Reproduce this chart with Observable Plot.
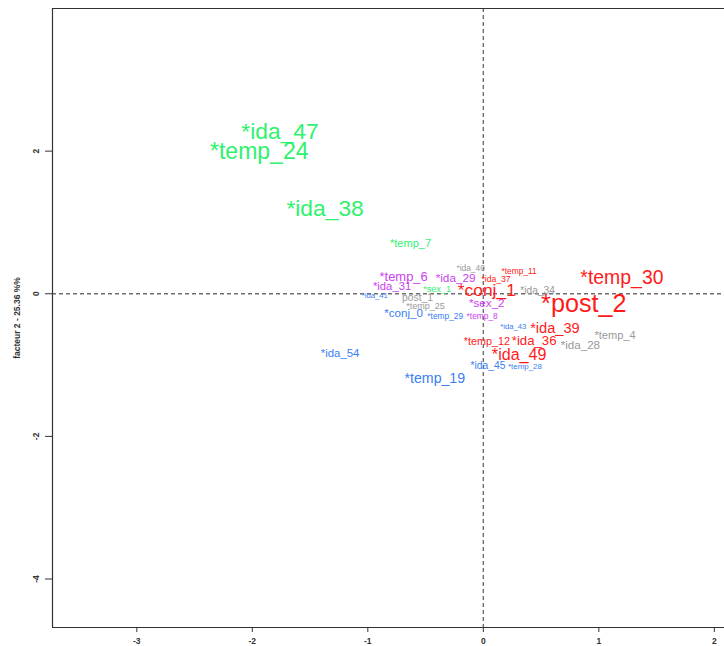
<!DOCTYPE html>
<html>
<head>
<meta charset="utf-8">
<script src="https://cdn.jsdelivr.net/npm/d3@7"></script>
<script src="https://cdn.jsdelivr.net/npm/@observablehq/plot@0.6"></script>
<style>
  html, body { margin: 0; padding: 0; background: #fff; }
  #chart svg { display: block; }
</style>
</head>
<body>
<div id="chart"></div>
<script>
// Modalities (labels), coordinates on factors 1 and 2, group, and relative size (cex)
const labels = ["*ida_47","*temp_24","*ida_38","*temp_7","*temp_6","*ida_29","*ida_40","*temp_11","*ida_37","*temp_30",
                "*ida_31","*sex_1","*conj_1","*ida_34","*post_2","*ida_41","post_1","*temp_25","*sex_2","*conj_0",
                "*temp_29","*temp_8","*ida_43","*ida_39","*temp_4","*temp_12","*ida_36","*ida_28","*ida_49","*ida_54",
                "*ida_45","*temp_28","*temp_19"];
const dim1 = [-1.76,-1.94,-1.37,-0.63,-0.69,-0.24,-0.11,0.31,0.11,1.20,
              -0.79,-0.40,0.03,0.47,0.87,-0.94,-0.57,-0.50,0.03,-0.69,
              -0.33,-0.01,0.26,0.62,1.14,0.03,0.44,0.84,0.31,-1.24,
              0.04,0.36,-0.42];
const dim2 = [2.27,2.00,1.19,0.70,0.24,0.22,0.35,0.32,0.20,0.22,
              0.10,0.06,0.04,0.04,-0.14,-0.03,-0.06,-0.17,-0.14,-0.28,
              -0.32,-0.31,-0.46,-0.49,-0.58,-0.67,-0.66,-0.72,-0.86,-0.84,
              -1.01,-1.02,-1.19];
const groups = ["g","g","g","g","m","m","k","r","r","r",
                "m","g","r","k","r","b","k","k","m","b",
                "b","m","b","r","k","r","r","k","r","b",
                "b","b","b"];
const cex = [1.9,1.92,1.9,0.92,1.08,0.98,0.7,0.7,0.72,1.62,
             0.94,0.76,1.45,0.85,2.1,0.64,0.86,0.75,0.97,0.97,
             0.7,0.7,0.64,1.22,0.92,0.9,1.1,0.97,1.34,0.95,
             0.86,0.66,1.18];
const groupDomain = ["g","r","m","b","k"];
const groupColors = ["#2ef26e","#ff1a1a","#cc3ef0","#3a80f2","#9a9a9a"];
const xTicks = [-3,-2,-1,0,1,2];
const yTicks = [-4,-2,0,2];
const xDomain = [-3.73, 2.088];
const yDomain = [-4.68, 4.0];
const yTitle = "facteur 2 - 25.36 %%";

const data = labels.map((l, i) => ({label: l, x: dim1[i], y: dim2[i], g: groups[i], cex: cex[i]}));

const chart = Plot.plot({
  width: 724,
  height: 646,
  marginLeft: 52,
  marginRight: 0,
  marginTop: 8,
  marginBottom: 19,
  style: {fontFamily: "'Liberation Sans', Arial, sans-serif", background: "#fff"},
  x: {domain: xDomain},
  y: {domain: yDomain},
  color: {domain: groupDomain, range: groupColors},
  marks: [
    Plot.ruleX([0], {stroke: "#6e6e6e", strokeWidth: 1.4, strokeDasharray: "4,3"}),
    Plot.ruleY([0], {stroke: "#6e6e6e", strokeWidth: 1.4, strokeDasharray: "4,3"}),
    Plot.ruleX([xDomain[0]], {stroke: "#333", strokeWidth: 1.2}),
    Plot.ruleY([yDomain[0], yDomain[1]], {stroke: "#333", strokeWidth: 1.2}),
    Plot.axisX({ticks: xTicks, tickSize: 5, tickPadding: 5, tickFormat: d => String(d), fontSize: 8.5, fontWeight: "bold", stroke: "#333", color: "#333", label: null}),
    Plot.axisY({ticks: yTicks, tickSize: 7, tickPadding: 7, tickFormat: d => String(d), tickRotate: -90, fontSize: 8.5, fontWeight: "bold", stroke: "#333", color: "#333",
                label: yTitle, labelAnchor: "center", labelOffset: 39, labelArrow: "none"}),
    Plot.text(data, {x: "x", y: "y", text: "label", fill: "g", fontSize: d => d.cex * 12, textAnchor: "middle", lineAnchor: "middle"})
  ]
});
document.getElementById("chart").appendChild(chart);
</script>
</body>
</html>
